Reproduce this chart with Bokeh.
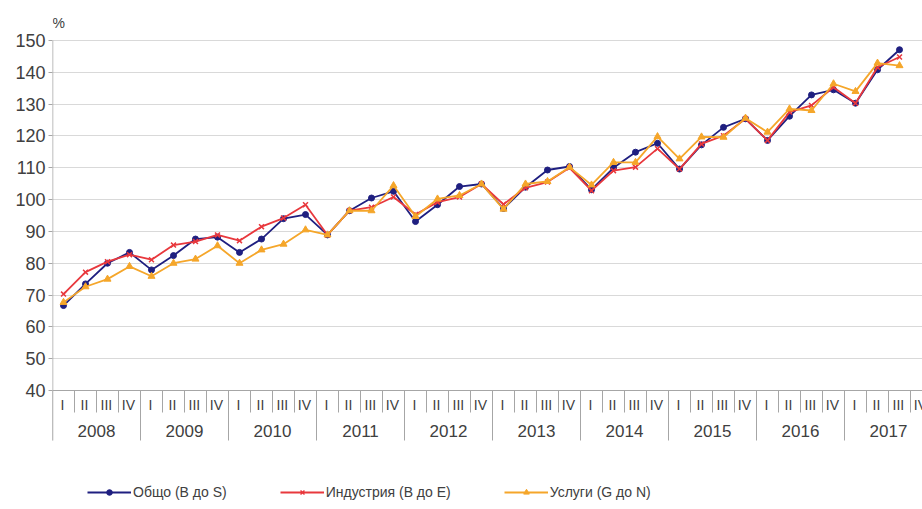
from bokeh.plotting import figure
from bokeh.models import FixedTicker, Span, Legend, LegendItem, ColumnDataSource, Range1d
from bokeh.core.properties import value
from bokeh.embed import file_html
from bokeh.resources import INLINE

# ---------------- data ----------------
years = ["2008", "2009", "2010", "2011", "2012", "2013", "2014", "2015", "2016", "2017"]
quarters = ["I", "II", "III", "IV"]

total = [66.7, 73.5, 80.0, 83.4,
         77.9, 82.4, 87.6, 88.2,
         83.4, 87.6, 94.0, 95.3,
         88.9, 96.5, 100.5, 102.6,
         93.1, 98.4, 104.1, 104.9,
         97.2, 103.9, 109.3, 110.4,
         103.1, 110.0, 114.9, 117.7,
         109.6, 117.2, 122.7, 125.4,
         118.6, 126.2, 132.9, 134.5,
         130.3, 140.8, 147.1]

industry = [70.3, 77.2, 80.5, 82.7,
            81.1, 85.7, 86.8, 88.9,
            87.1, 91.5, 94.2, 98.4,
            88.9, 96.5, 97.6, 100.8,
            95.3, 99.2, 100.8, 104.9,
            98.5, 103.7, 105.5, 110.0,
            102.8, 109.1, 110.2, 116.0,
            109.6, 117.5, 120.1, 125.4,
            118.6, 127.5, 129.6, 135.3,
            130.3, 141.6, 144.8]

services = [67.7, 72.6, 75.0, 79.0,
            75.9, 80.0, 81.3, 85.5,
            80.0, 84.2, 86.0, 90.5,
            88.9, 96.5, 96.5, 104.4,
            94.7, 100.2, 101.3, 104.9,
            97.0, 104.9, 105.7, 110.2,
            104.6, 111.7, 111.7, 119.8,
            112.8, 119.7, 119.6, 125.6,
            121.2, 128.5, 128.0, 136.4,
            134.0, 142.9, 142.1]

y_ticks = [40, 50, 60, 70, 80, 90, 100, 110, 120, 130, 140, 150]
series_names = ["Общо (B до S)", "Индустрия (B до E)", "Услуги (G до N)"]
unit_label = "%"

# ---------------- style / layout ----------------
FONT = "Liberation Sans"
TXT = "#404040"
AXIS = "#a6a6a6"
GRID = "#d9d9d9"
C_TOTAL = "#1f1f80"
C_IND = "#e8383d"
C_SERV = "#f5a62a"

PX_PER_UNIT = 350.0 / 110.0
Y_TOP = 150 + 40 / PX_PER_UNIT
Y_BOT = 150 - 469 / PX_PER_UNIT
Y_AXIS_BASE = 40
Y_QSEP = 150 - 372 / PX_PER_UNIT
Y_YSEP = 150 - 400 / PX_PER_UNIT
Y_QLAB = 150 - 364 / PX_PER_UNIT
Y_YLAB = 150 - 390 / PX_PER_UNIT
Y_UNIT = 150 + 18 / PX_PER_UNIT

p = figure(width=922, height=509, output_backend="svg", toolbar_location=None,
           x_range=Range1d(0, 870 / 22.0), y_range=Range1d(Y_BOT, Y_TOP),
           x_axis_location=None, min_border_left=52, min_border_right=0,
           min_border_top=0, min_border_bottom=0)
p.outline_line_color = None
p.background_fill_color = "white"
p.border_fill_color = "white"

# y axis
ticker = FixedTicker(ticks=y_ticks)
p.yaxis.ticker = ticker
p.yaxis.axis_line_color = None
p.yaxis.major_tick_line_color = AXIS
p.yaxis.major_tick_out = 4
p.yaxis.major_tick_in = 0
p.yaxis.minor_tick_line_color = None
p.yaxis.major_label_standoff = 3
p.yaxis.major_label_text_font = FONT
p.yaxis.major_label_text_font_size = "18px"
p.yaxis.major_label_text_color = TXT
p.ygrid.ticker = ticker
p.ygrid.grid_line_color = GRID
p.xgrid.grid_line_color = None

# x axis base line
p.add_layout(Span(location=Y_AXIS_BASE, dimension="width", line_color=AXIS, line_width=1))

# category separators and labels
n_slots = len(years) * len(quarters)
q_sep_x = [k for k in range(1, n_slots + 1) if k % len(quarters) != 0]
y_sep_x = [k for k in range(0, n_slots + 1) if k % len(quarters) == 0]
p.segment(x0=q_sep_x, y0=[Y_AXIS_BASE] * len(q_sep_x), x1=q_sep_x, y1=[Y_QSEP] * len(q_sep_x),
          line_color=AXIS, line_width=1)
p.segment(x0=y_sep_x, y0=[Y_AXIS_BASE] * len(y_sep_x), x1=y_sep_x, y1=[Y_YSEP] * len(y_sep_x),
          line_color=AXIS, line_width=1)
# y axis line
p.segment(x0=[0], y0=[y_ticks[-1]], x1=[0], y1=[Y_YSEP], line_color=AXIS, line_width=1.5)

q_lab_x = [k + 0.45 for k in range(n_slots)]
q_lab_t = [quarters[k % len(quarters)] for k in range(n_slots)]
p.text(x=q_lab_x, y=[Y_QLAB] * n_slots, text=q_lab_t, text_align="center", text_baseline="middle",
       text_font=value(FONT), text_font_size="14px", text_color=TXT)
y_lab_x = [len(quarters) * j + len(quarters) / 2 for j in range(len(years))]
p.text(x=y_lab_x, y=[Y_YLAB] * len(years), text=years, text_align="center", text_baseline="middle",
       text_font=value(FONT), text_font_size="17px", text_color=TXT)

p.text(x=[0.0], y=[Y_UNIT], text=[unit_label], text_align="left", text_baseline="middle",
       text_font=value(FONT), text_font_size="14px", text_color=TXT)

# ---------------- series ----------------
xs = [k + 0.5 for k in range(len(total))]
src = ColumnDataSource(dict(x=xs, total=total, industry=industry, services=services))

l1 = p.line("x", "total", source=src, line_color=C_TOTAL, line_width=1.8)
m1 = p.scatter("x", "total", source=src, marker="circle", size=6, fill_color=C_TOTAL, line_color=C_TOTAL)
l2 = p.line("x", "industry", source=src, line_color=C_IND, line_width=1.8)
m2 = p.scatter("x", "industry", source=src, marker="x", size=7, line_color=C_IND, line_width=1.5)
l3 = p.line("x", "services", source=src, line_color=C_SERV, line_width=1.8)
m3 = p.scatter("x", "services", source=src, marker="triangle", size=7, fill_color=C_SERV, line_color=C_SERV)

legend = Legend(items=[LegendItem(label=series_names[0], renderers=[l1, m1]),
                       LegendItem(label=series_names[1], renderers=[l2, m2]),
                       LegendItem(label=series_names[2], renderers=[l3, m3])],
                orientation="horizontal", location=(35, 9), padding=0, margin=0, spacing=53,
                glyph_width=44, glyph_height=14, label_height=14, label_standoff=2,
                label_text_font=FONT, label_text_font_size="14px", label_text_color=TXT,
                border_line_color=None, background_fill_alpha=0)
p.add_layout(legend)

open("out.html", "w").write(file_html(p, INLINE))
